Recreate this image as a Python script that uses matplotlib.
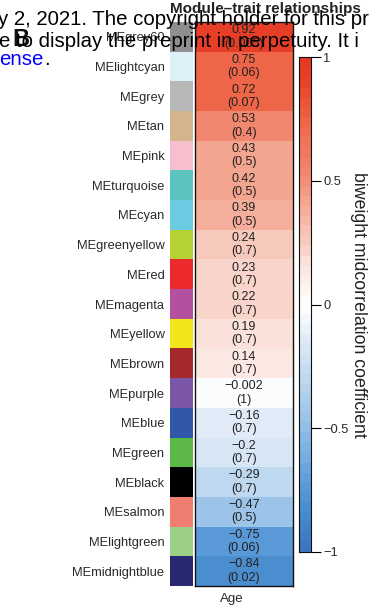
import numpy as np
import matplotlib
matplotlib.use("Agg")
import matplotlib.pyplot as plt
from matplotlib.colors import LinearSegmentedColormap, to_rgb

plt.rcParams['font.family'] = ['Liberation Sans', 'DejaVu Sans']

# Module eigengenes, their display colours, and correlation with Age
modules = ["MEgrey60", "MElightcyan", "MEgrey", "MEtan", "MEpink", "MEturquoise",
           "MEcyan", "MEgreenyellow", "MEred", "MEmagenta", "MEyellow", "MEbrown",
           "MEpurple", "MEblue", "MEgreen", "MEblack", "MEsalmon", "MElightgreen",
           "MEmidnightblue"]
module_colors = ["#8f8f8f", "#ddeff7", "#b8b8b8", "#d4b48c", "#f7bfcd", "#5cc3be",
                 "#6ccbe0", "#b4d234", "#ec2a2e", "#b450a0", "#f2e61a", "#a52a2d",
                 "#7b55a6", "#3157a8", "#5bb847", "#000000", "#f07e70", "#9bcf86",
                 "#272870"]
cor_values = [0.92, 0.75, 0.72, 0.53, 0.43, 0.42, 0.39, 0.24, 0.23, 0.22, 0.19,
              0.14, -0.002, -0.16, -0.2, -0.29, -0.47, -0.75, -0.84]
p_labels = ["0.005", "0.06", "0.07", "0.4", "0.5", "0.5", "0.5", "0.7", "0.7", "0.7",
            "0.7", "0.7", "1", "0.7", "0.7", "0.7", "0.5", "0.06", "0.02"]
cor_labels = ["0.92", "0.75", "0.72", "0.53", "0.43", "0.42", "0.39", "0.24", "0.23",
              "0.22", "0.19", "0.14", "\u22120.002", "\u22120.16", "\u22120.2",
              "\u22120.29", "\u22120.47", "\u22120.75", "\u22120.84"]
trait = "Age"
cbar_ticks = [1, 0.5, 0, -0.5, -1]
cbar_ticklabels = ["1", "0.5", "0", "\u22120.5", "\u22121"]

# blue-white-red palette, 50 steps
nodes = [(0.0, "#3a77c0"), (0.08, "#4a8ed0"), (0.125, "#5a9ad8"), (0.265, "#9cc4e8"),
         (0.355, "#c0daf0"), (0.42, "#dce9f6"), (0.5, "#ffffff"), (0.595, "#fae0d8"),
         (0.62, "#f8cfc4"), (0.715, "#f4a590"), (0.765, "#f08a72"), (0.875, "#ee6648"),
         (0.96, "#e8432a"), (1.0, "#e53a24")]
bwr = LinearSegmentedColormap.from_list("bwr50", nodes, N=50)

W, H = 376, 606
fig = plt.figure(figsize=(W / 100, H / 100), dpi=100)

def frac(x0, y0, x1, y1):
    return [x0 / W, 1 - y1 / H, (x1 - x0) / W, (y1 - y0) / H]

n = len(modules)
top, bot = 22, 586

# heatmap
ax = fig.add_axes(frac(195, top, 293, bot))
vals = np.array(cor_values).reshape(-1, 1)
ax.pcolormesh(np.arange(2), np.arange(n + 1), vals, cmap=bwr, vmin=-1, vmax=1)
ax.set_xlim(0, 1)
ax.set_ylim(n, 0)
ax.set_xticks([])
ax.set_yticks([])
for s in ax.spines.values():
    s.set_linewidth(1.0)
    s.set_color("#111111")
for i in range(n):
    ax.text(0.5, i + 0.5, f"{cor_labels[i]}\n({p_labels[i]})", ha="center", va="center",
            fontsize=9, color="#222222", linespacing=1.15)

# module colour strip with labels
sax = fig.add_axes(frac(170, top, 193, bot))
rgb = np.array([to_rgb(c) for c in module_colors]).reshape(n, 1, 3)
sax.imshow(rgb, aspect="auto", extent=(0, 1, n, 0))
sax.set_xlim(0, 1)
sax.set_ylim(n, 0)
sax.set_xticks([])
sax.set_yticks(np.arange(n) + 0.5)
sax.set_yticklabels(modules, fontsize=9.3, color="#2a2a2a")
sax.tick_params(axis="y", length=0, pad=4)
for s in sax.spines.values():
    s.set_visible(False)

fig.text(232 / W, 1 - 599 / H, trait, ha="center", va="center", fontsize=9.5, color="#2a2a2a")
fig.text(265 / W, 1 - 9 / H, "Module\u2013trait relationships", ha="center", va="center",
         fontsize=11, fontweight="bold", color="#222222")

# colour bar
cax = fig.add_axes(frac(299, 57, 311, 552))
grad = np.linspace(-1, 1, 256).reshape(-1, 1)
cax.pcolormesh(np.arange(2), np.linspace(-1, 1, 257), grad, cmap=bwr, vmin=-1, vmax=1)
cax.set_ylim(-1, 1)
cax.set_xticks([])
cax.yaxis.tick_right()
cax.set_yticks(cbar_ticks)
cax.set_yticklabels(cbar_ticklabels, fontsize=9.3, color="#2a2a2a")
cax.tick_params(axis="y", length=7, width=0.8, pad=2)
for s in cax.spines.values():
    s.set_linewidth(0.8)
    s.set_color("#111111")
fig.text(358 / W, 1 - 305 / H, "biweight midcorrelation coefficient", rotation=270,
         ha="center", va="center", fontsize=12.8, color="#222222")

# panel letter and overlaid preprint notice
fig.text(12 / W, 1 - 39 / H, "B", ha="left", va="center", fontsize=17,
         fontweight="bold", color="#111111")
fig.text(-2 / W, 1 - 25 / H, "y 2, 2021. The copyright holder for this pr", ha="left",
         va="baseline", fontsize=14.7, color="#000000")
fig.text(-1 / W, 1 - 47 / H, "e to display the preprint in perpetuity. It i", ha="left",
         va="baseline", fontsize=14.7, color="#000000")
t = fig.text(-1 / W, 1 - 65 / H, "ense", ha="left", va="baseline", fontsize=14.7,
             color="#0000ff")
fig.canvas.draw()
bb = t.get_window_extent()
fig.text(bb.x1 / W + 1 / W, 1 - 65 / H, ".", ha="left", va="baseline", fontsize=14.7,
         color="#000000")

fig.savefig("out.png", dpi=100)
